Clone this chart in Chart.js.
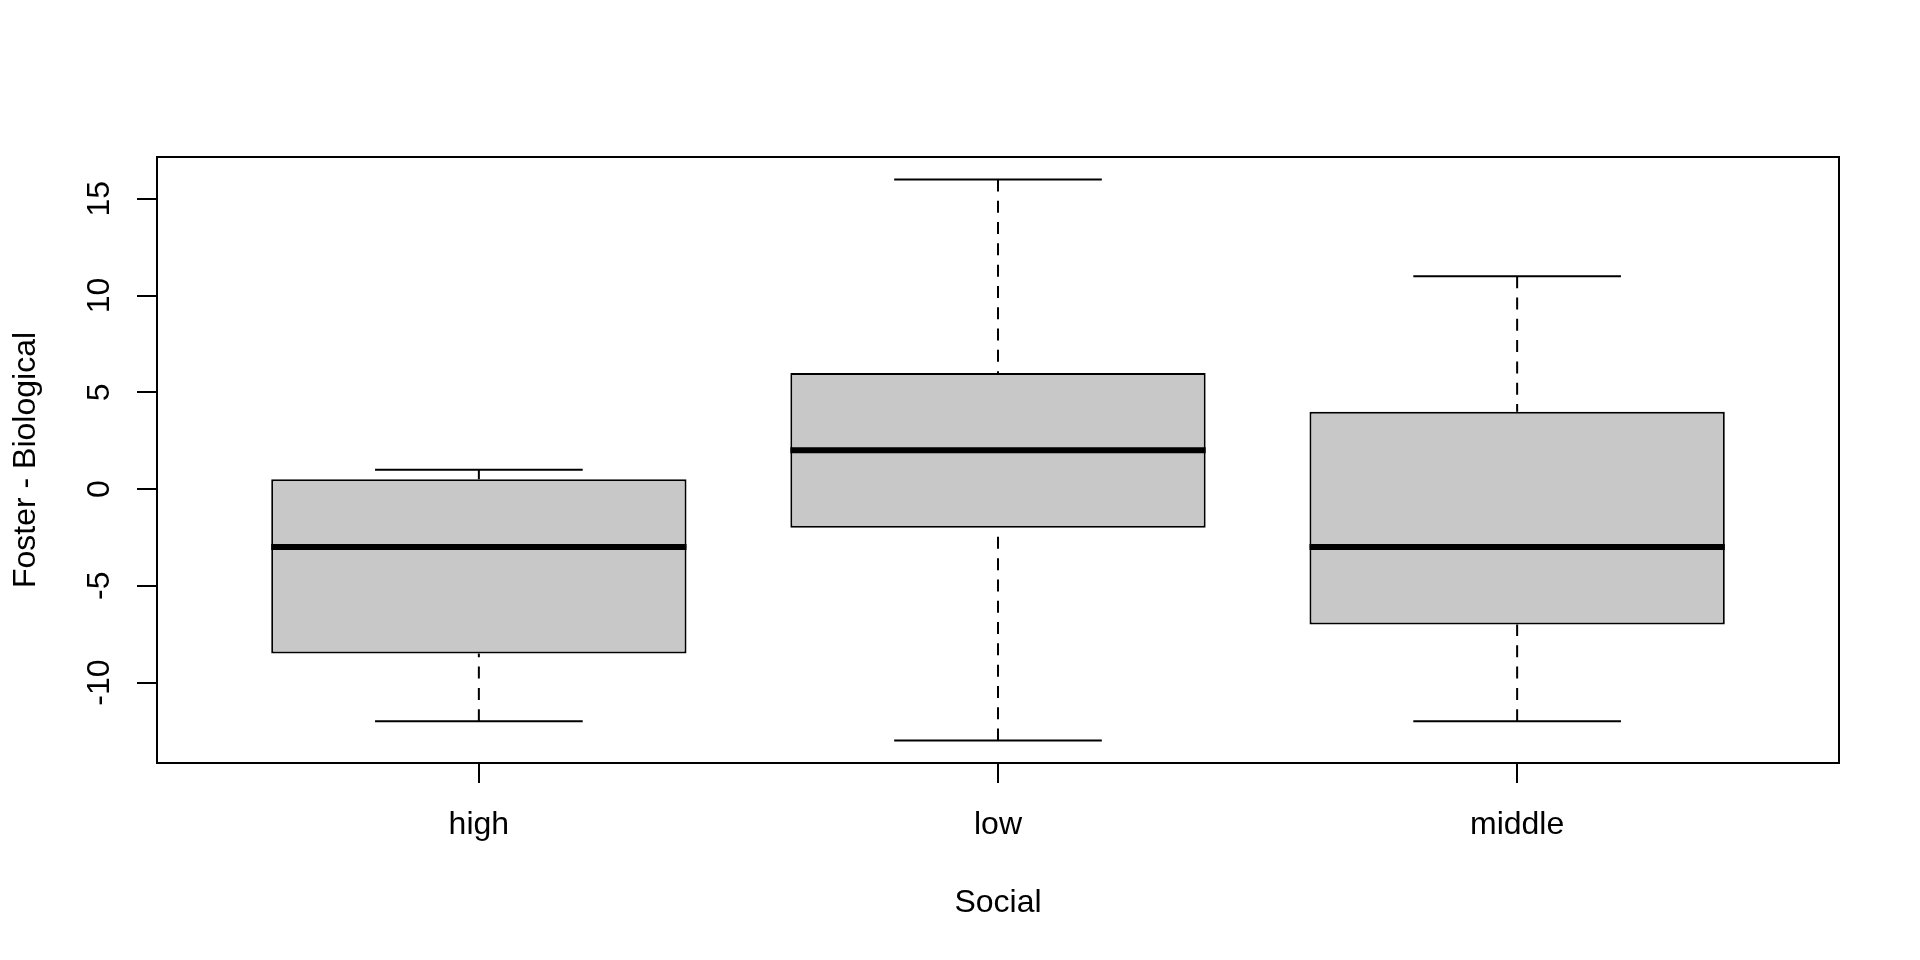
<!DOCTYPE html>
<html>
<head>
<meta charset="utf-8">
<script src="https://cdn.jsdelivr.net/npm/chart.js@4/dist/chart.umd.min.js"></script>
<style>
  html, body { margin: 0; padding: 0; background: #fff; }
  #wrap { width: 1920px; height: 960px; }
</style>
</head>
<body>
<div id="wrap"><canvas id="chart" width="1920" height="960"></canvas></div>
<script>
// box statistics per group
var categories = ['high', 'low', 'middle'];
var whiskerLow = [-12, -13, -12];
var q1 = [-8.5, -2, -7];
var medians = [-3, 2, -3];
var q3 = [0.5, 6, 4];
var whiskerHigh = [1, 16, 11];
var yTicks = [-10, -5, 0, 5, 10, 15];

var font = { family: "'Liberation Sans', Arial, sans-serif", size: 32 };

// R style axis limits: data range stretched by 4%
var lo = Math.min.apply(null, whiskerLow), hi = Math.max.apply(null, whiskerHigh);
var pad = (hi - lo) * 0.04;
var xPad = categories.length * 0.04;

var boxes = [], medianPts = [], capPts = [], whiskerPts = [];
for (var i = 0; i < categories.length; i++) {
    var x = i + 1;
    boxes.push({ x: x, y: [q1[i], q3[i]] });
    medianPts.push({ x: x - 0.4, y: medians[i] }, { x: x + 0.4, y: medians[i] }, { x: x, y: null });
    capPts.push({ x: x - 0.2, y: whiskerLow[i] }, { x: x + 0.2, y: whiskerLow[i] }, { x: x, y: null });
    capPts.push({ x: x - 0.2, y: whiskerHigh[i] }, { x: x + 0.2, y: whiskerHigh[i] }, { x: x, y: null });
    whiskerPts.push({ x: x, y: whiskerLow[i] }, { x: x, y: q1[i] }, { x: x, y: null });
    whiskerPts.push({ x: x, y: whiskerHigh[i] }, { x: x, y: q3[i] }, { x: x, y: null });
}

var frame = {
    id: 'frame',
    afterDatasetsDraw: function (chart) {
        var a = chart.chartArea, ctx = chart.ctx;
        ctx.save();
        ctx.strokeStyle = '#000';
        ctx.lineWidth = 2;
        ctx.strokeRect(a.left, a.top, a.right - a.left, a.bottom - a.top);
        ctx.restore();
    }
};

var lineBase = { type: 'line', borderColor: '#000', pointRadius: 0, spanGaps: false, fill: false, borderCapStyle: 'butt' };

new Chart(document.getElementById('chart').getContext('2d'), {
    type: 'bar',
    data: {
        datasets: [
            Object.assign({}, lineBase, { data: medianPts, borderWidth: 6, order: 0 }),
            Object.assign({}, lineBase, { data: capPts, borderWidth: 2, order: 1 }),
            Object.assign({}, lineBase, { data: whiskerPts, borderWidth: 2, borderDash: [12, 9.3], order: 2 }),
            {
                type: 'bar',
                data: boxes,
                backgroundColor: '#c8c8c8',
                borderColor: '#000',
                borderWidth: 2,
                borderSkipped: false,
                barPercentage: 0.8,
                categoryPercentage: 1,
                order: 3
            }
        ]
    },
    options: {
        responsive: false,
        devicePixelRatio: 1,
        animation: false,
        layout: { padding: { top: 157, right: 81, left: 0, bottom: 0 } },
        plugins: { legend: { display: false }, tooltip: { enabled: false } },
        scales: {
            x: {
                type: 'linear',
                min: 0.5 - xPad,
                max: categories.length + 0.5 + xPad,
                offset: false,
                afterBuildTicks: function (s) {
                    s.ticks = categories.map(function (c, k) { return { value: k + 1 }; });
                },
                afterFit: function (s) { s.height = 197; },
                ticks: {
                    callback: function (v) { return categories[v - 1]; },
                    font: font, color: '#000', padding: 23,
                    autoSkip: false, maxRotation: 0
                },
                grid: { offset: false, drawOnChartArea: false, tickLength: 20, color: '#000', lineWidth: 2 },
                border: { color: '#000', width: 2 },
                title: { display: true, text: 'Social', font: font, color: '#000', padding: { bottom: 38 } }
            },
            y: {
                min: lo - pad,
                max: hi + pad,
                afterBuildTicks: function (s) {
                    s.ticks = yTicks.map(function (v) { return { value: v }; });
                },
                afterFit: function (s) { s.width = 157; },
                ticks: {
                    minRotation: 90, maxRotation: 90, crossAlign: 'center',
                    font: font, color: '#000', padding: 14
                },
                grid: { drawOnChartArea: false, tickLength: 20, color: '#000', lineWidth: 2 },
                border: { color: '#000', width: 2 },
                title: { display: true, text: 'Foster - Biological', font: font, color: '#000', padding: { top: 7 } }
            }
        }
    },
    plugins: [frame]
});
</script>
</body>
</html>
